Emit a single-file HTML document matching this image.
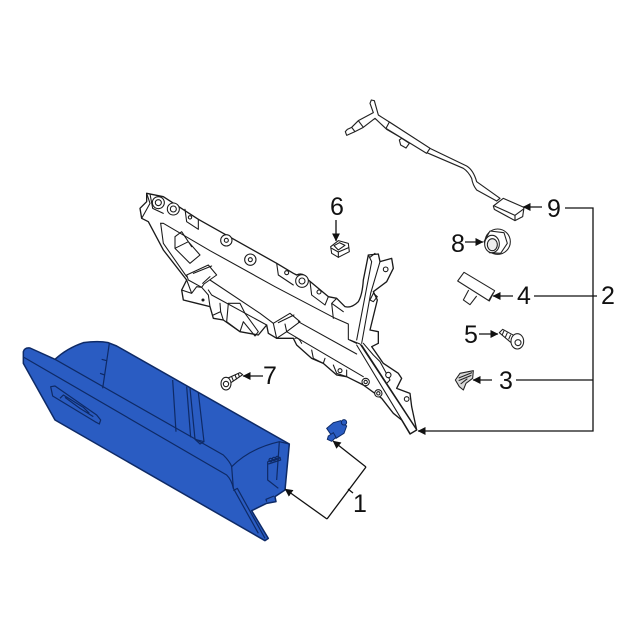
<!DOCTYPE html>
<html><head><meta charset="utf-8"><style>
html,body{margin:0;padding:0;background:#fff}
svg{display:block;filter:blur(.35px)}
text{font-family:"Liberation Sans",sans-serif;font-size:25px;fill:#111;text-anchor:middle}
</style></head><body>
<svg width="640" height="640" viewBox="0 0 640 640" xmlns="http://www.w3.org/2000/svg">
<defs>
<marker id="a" viewBox="0 0 10 10" refX="9.5" refY="5" markerWidth="8" markerHeight="8" orient="auto" markerUnits="userSpaceOnUse"><path d="M0,0L10,5L0,10Z" fill="#111"/></marker>
</defs>
<!-- glovebox (zoom coords) -->
<g transform="translate(0,320) scale(.33333)" stroke="#0e2a66" stroke-width="3.6" fill="#2a5cc2" stroke-linejoin="round">
<path stroke-width="4.5" d="M70,95Q74,82 90,84L165,118Q200,85 250,68Q295,62 325,68L350,78L868,372L855,510L825,530L828,545L800,550L755,572L805,655L795,662L165,300L70,130Z"/>
<g fill="none">
<path d="M72,112L680,465Q695,480 700,505L775,640"/>
<path d="M165,118L670,405Q690,425 695,440L700,505"/>
<path d="M695,440Q750,385 838,365L868,372"/>
<path d="M700,512L712,505L795,655"/>
<path d="M328,70L308,205M305,118L320,122M300,160L314,165"/>
<path d="M518,180L528,335M560,200L572,352M570,205L585,358L612,365L595,218M585,358L600,372L612,365"/>
<path d="M152,200L165,198L290,285L302,300L298,312L285,305L158,228Z"/>
<path d="M180,235L190,225L250,262L268,280M195,232L240,265L280,290"/>
<path d="M838,365L830,480M803,425L803,480L835,505M803,425L840,412L842,420L805,432"/>
<circle cx="812" cy="420" r="5"/><circle cx="822" cy="417" r="5"/><circle cx="832" cy="414" r="5"/>
<path d="M800,545L798,538L822,528"/>
</g>
</g>
<!-- panel (zoom coords) -->
<g transform="translate(130,180) scale(.33333)" stroke="#1a1a1a" stroke-width="3.2" fill="#fff" stroke-linejoin="round" stroke-linecap="round">
<path stroke-width="4" d="M50,40L100,50L205,118L440,250L490,280L500,285Q520,275 535,300L595,350L620,355L645,380Q665,385 685,365Q697,345 700,300L715,225L745,222L750,245L785,235L790,265L770,305L730,335L742,360L720,450L745,455L745,490L725,500L760,550L805,580L815,595L800,625L840,640L845,680L860,750L840,762L815,720L790,700L755,655L700,615L650,590L620,585L580,550L545,535L500,495L490,475L440,475L415,460L410,435L385,465L330,455L280,420L250,415L240,380L200,370L160,360L155,330L170,300L100,210L55,125L35,115L30,85L50,65Z"/>
<g fill="none">
<path d="M92,130L100,130L240,212L435,320L610,412L655,432L655,478L680,490"/>
<path d="M92,130L100,190L170,290"/>
<path d="M135,170L155,155L165,170M135,205L175,185L210,225L180,250L135,205M135,170L135,205M165,170L185,200"/>
<path d="M170,285L235,255L260,285L222,312L215,322L175,300Z"/>
<path d="M190,280L245,258M218,310L240,290"/>
<path d="M240,300L390,400L430,430M235,330L245,345L410,435"/>
<path d="M430,430L480,400L510,425L470,455L440,475L430,430"/>
<path d="M445,428L492,405M470,455L465,432"/>
<path d="M505,425L680,522M470,455L700,590"/>
<path d="M495,475Q505,470 515,490M545,510L550,535L580,550L585,535M610,555L620,580L650,590L650,570"/>
<path d="M610,415L605,370L620,355M605,370L640,395"/>
<path d="M440,250L445,285L490,315M540,305L545,345L585,375L595,350"/>
<path d="M50,40L60,70L35,115M60,42L68,85L100,100M165,88L170,125L205,148L205,118"/>
<path d="M660,480L690,492L860,750M680,495L840,760M695,495L860,748"/>
<path d="M720,232L735,220M715,225L725,245L680,480M750,245L722,340L695,490"/>
<path d="M720,360L730,340L742,350L730,365Z"/>
<path d="M700,490L730,525L750,545L780,600L770,610"/>
<path d="M295,370L330,370L345,400L385,455L375,468L340,425L330,455L290,425L295,370"/>
<path d="M270,370L272,395L250,405M272,395L280,420"/>
<path d="M155,330L185,340L170,300M185,340L200,320L215,322L235,345L240,380"/>
</g>
<g>
<circle cx="85" cy="68" r="18"/><circle cx="85" cy="68" r="9"/>
<circle cx="130" cy="87" r="18"/><circle cx="130" cy="87" r="9"/>
<circle cx="180" cy="112" r="5"/>
<circle cx="289" cy="181" r="17"/><circle cx="289" cy="181" r="6"/>
<circle cx="361" cy="239" r="17"/><circle cx="361" cy="239" r="6"/>
<circle cx="470" cy="278" r="6"/>
<circle cx="516" cy="303" r="19"/><circle cx="516" cy="303" r="9"/>
<circle cx="567" cy="336" r="6"/>
<circle cx="767" cy="268" r="7"/>
<circle cx="630" cy="572" r="6"/>
<circle cx="707" cy="606" r="11"/><circle cx="707" cy="606" r="5"/>
<circle cx="745" cy="640" r="11"/><circle cx="745" cy="640" r="5"/>
<circle cx="775" cy="585" r="8"/>
<circle cx="830" cy="657" r="7"/>
</g>
<circle cx="219" cy="360" r="3" fill="#111"/>
<!-- part 6 -->
<path d="M602,200L625,182L655,190L658,215L625,232L605,220Z"/>
<path d="M612,197L628,188L645,196L625,210ZM605,205L625,216L656,203M625,216L625,232" fill="none"/>
<!-- part 7 -->
<path d="M290,596L330,578L338,584L300,610Z"/>
<path d="M305,590L310,602M315,585L320,597M325,581L328,590" fill="none"/>
<ellipse cx="288" cy="611" rx="15" ry="19"/><circle cx="288" cy="612" r="8"/>
</g>
<!-- clip -->
<g transform="translate(270,400) scale(.33333)" stroke="#0e2a66" stroke-width="3" fill="#2a5cc2">
<path d="M170,85L190,68L212,62L230,78L222,100L198,115L180,100Z"/>
<circle cx="222" cy="67" r="8"/>
<path d="M175,108L190,98L198,112L185,124L172,118Z"/>
</g>
<!-- cable 9 (zoom coords) -->
<g transform="translate(330,90) scale(.33333)" stroke="#222" stroke-width="3.4" fill="#fff" stroke-linejoin="round">
<path d="M46,125L52,118L65,112L85,92L130,68L120,40L124,30L133,32L145,75L178,96L300,175L410,228Q430,240 440,275L510,325L500,333L440,300Q428,285 425,265Q415,245 400,235L295,190L170,118L135,85L100,112L75,125L50,136Z"/>
<path d="M178,96L300,175L290,190L168,115Z"/>
<path d="M208,150L215,145L238,160L228,174L212,165Z"/>
<path d="M85,92L100,112M65,112L75,125" fill="none"/>
<path d="M490,348L520,325L582,352L578,380L555,392L493,358Z"/>
<path d="M493,348L555,376L582,356M555,376L555,392" fill="none"/>
</g>
<!-- parts 8,4,5,3 (zoom coords) -->
<g transform="translate(430,220) scale(.33333)" stroke="#222" stroke-width="3.2" fill="#fff" stroke-linejoin="round">
<circle cx="203" cy="65" r="38"/>
<path d="M162,65L180,33L222,38L232,70L212,100L178,98Z"/>
<ellipse cx="186" cy="72" rx="22" ry="26"/>
<ellipse cx="187" cy="74" rx="15" ry="18" fill="#eee"/>
<path d="M83,183L102,157L194,212L178,243Z"/>
<path d="M190,218L176,242" fill="none"/>
<path d="M116,210L100,240L120,254L140,228"/>
<path d="M208,338L218,328L262,352L248,372Z"/>
<path d="M222,332L216,346M232,338L226,352M242,344L236,358" fill="none"/>
<ellipse cx="262" cy="364" rx="19" ry="23"/><circle cx="264" cy="368" r="9"/>
<path d="M76,480L90,460L130,452L128,475L108,490L100,510L88,500Z" fill="#d8d8d8"/>
<path d="M86,474L126,458M86,482L124,466M92,492L112,476" fill="none"/>
</g>
<!-- leader lines -->
<g stroke="#111" stroke-width="1.3" fill="none">
<path d="M565,208H593V431H418" marker-end="url(#a)"/>
<path d="M513,296H493" marker-end="url(#a)"/>
<path d="M534,296H597M516,380H593"/>
<path d="M479,334H498" marker-end="url(#a)"/>
<path d="M492,380H473" marker-end="url(#a)"/>
<path d="M465,242H483" marker-end="url(#a)"/>
<path d="M542,207H523" marker-end="url(#a)"/>
<path d="M336,220V241" marker-end="url(#a)"/>
<path d="M263,376H243" marker-end="url(#a)"/>
<path d="M366,467L333,441" marker-end="url(#a)"/>
<path d="M366,467L327,519"/>
<path d="M327,519L285,489" marker-end="url(#a)"/>
<path d="M348,489L353,493"/>
</g>
<text x="360" y="512">1</text>
<text x="608" y="304">2</text>
<text x="506" y="389">3</text>
<text x="524" y="304">4</text>
<text x="471" y="343">5</text>
<text x="337" y="215">6</text>
<text x="270" y="384">7</text>
<text x="458" y="252">8</text>
<text x="554" y="217">9</text>
</svg>
</body></html>
